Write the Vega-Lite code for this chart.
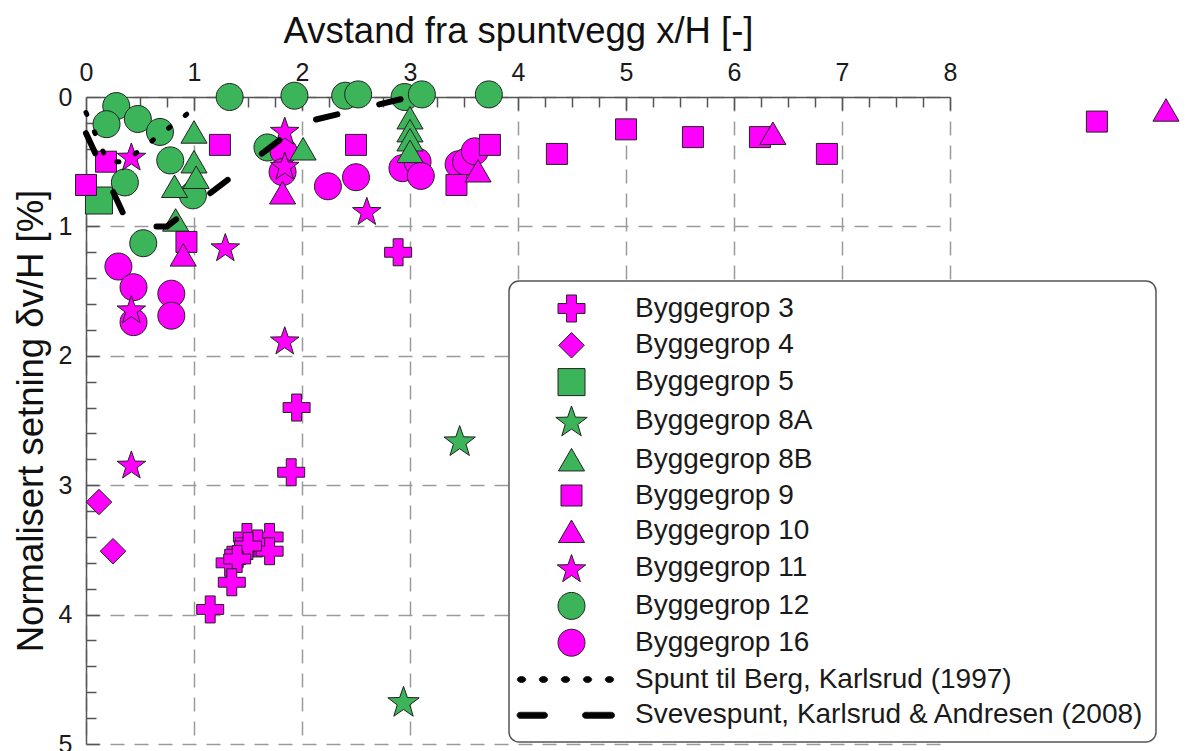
{
  "$schema": "https://vega.github.io/schema/vega-lite/v6.json",
  "width": 864,
  "height": 647,
  "autosize": "none",
  "padding": {"left": 86, "top": 97, "right": 238, "bottom": 7},
  "background": "white",
  "config": {
    "font": "Liberation Sans",
    "view": {"stroke": null},
    "legend": {
      "orient": "none",
      "legendX": 423,
      "legendY": 184,
      "fillColor": "white",
      "strokeColor": "#555555",
      "strokeWidth": 1.5,
      "cornerRadius": 10,
      "padding": 12,
      "labelFont": "Liberation Sans",
      "labelFontSize": 28,
      "labelColor": "#1a1a1a",
      "labelLimit": 800,
      "symbolSize": 900,
      "symbolStrokeColor": "#222222",
      "symbolStrokeWidth": 1,
      "symbolOffset": 35,
      "labelOffset": 48,
      "rowPadding": 5.8
    }
  },
  "datasets": {
    "points": [
      {"series": "Byggegrop 12", "x": 0.28, "y": 0.07},
      {"series": "Byggegrop 12", "x": 0.19, "y": 0.21},
      {"series": "Byggegrop 12", "x": 0.48, "y": 0.17},
      {"series": "Byggegrop 12", "x": 0.685, "y": 0.27},
      {"series": "Byggegrop 12", "x": 0.78, "y": 0.49},
      {"series": "Byggegrop 12", "x": 0.36, "y": 0.66},
      {"series": "Byggegrop 12", "x": 0.99, "y": 0.76},
      {"series": "Byggegrop 12", "x": 0.53, "y": 1.13},
      {"series": "Byggegrop 12", "x": 1.33, "y": 0.0},
      {"series": "Byggegrop 12", "x": 1.68, "y": 0.39},
      {"series": "Byggegrop 12", "x": 1.93, "y": -0.01},
      {"series": "Byggegrop 12", "x": 2.4, "y": -0.01},
      {"series": "Byggegrop 12", "x": 2.52, "y": -0.02},
      {"series": "Byggegrop 12", "x": 2.95, "y": 0.0},
      {"series": "Byggegrop 12", "x": 3.11, "y": -0.02},
      {"series": "Byggegrop 12", "x": 3.73, "y": -0.02},
      {"series": "Byggegrop 16", "x": 1.83, "y": 0.42},
      {"series": "Byggegrop 16", "x": 1.82, "y": 0.58},
      {"series": "Byggegrop 16", "x": 2.24, "y": 0.69},
      {"series": "Byggegrop 16", "x": 2.5, "y": 0.62},
      {"series": "Byggegrop 16", "x": 2.93, "y": 0.55},
      {"series": "Byggegrop 16", "x": 3.07, "y": 0.5},
      {"series": "Byggegrop 16", "x": 3.1, "y": 0.61},
      {"series": "Byggegrop 16", "x": 3.45, "y": 0.52},
      {"series": "Byggegrop 16", "x": 3.52, "y": 0.5},
      {"series": "Byggegrop 16", "x": 3.6, "y": 0.42},
      {"series": "Byggegrop 16", "x": 0.3, "y": 1.31},
      {"series": "Byggegrop 16", "x": 0.44, "y": 1.47},
      {"series": "Byggegrop 16", "x": 0.44, "y": 1.74},
      {"series": "Byggegrop 16", "x": 0.79, "y": 1.52},
      {"series": "Byggegrop 16", "x": 0.79, "y": 1.69},
      {"series": "Byggegrop 3", "x": 2.89, "y": 1.2},
      {"series": "Byggegrop 3", "x": 1.95, "y": 2.4},
      {"series": "Byggegrop 3", "x": 1.9, "y": 2.9},
      {"series": "Byggegrop 3", "x": 1.49, "y": 3.4},
      {"series": "Byggegrop 3", "x": 1.7, "y": 3.4},
      {"series": "Byggegrop 3", "x": 1.59, "y": 3.45},
      {"series": "Byggegrop 3", "x": 1.7, "y": 3.51},
      {"series": "Byggegrop 3", "x": 1.43, "y": 3.51},
      {"series": "Byggegrop 3", "x": 1.5, "y": 3.47},
      {"series": "Byggegrop 3", "x": 1.33, "y": 3.6},
      {"series": "Byggegrop 3", "x": 1.4, "y": 3.57},
      {"series": "Byggegrop 3", "x": 1.35, "y": 3.75},
      {"series": "Byggegrop 3", "x": 1.15, "y": 3.96},
      {"series": "Byggegrop 4", "x": 0.12, "y": 3.13},
      {"series": "Byggegrop 4", "x": 0.25, "y": 3.51},
      {"series": "Byggegrop 5", "x": 0.12, "y": 0.8},
      {"series": "Byggegrop 8A", "x": 3.46, "y": 2.655},
      {"series": "Byggegrop 8A", "x": 2.94, "y": 4.67},
      {"series": "Byggegrop 8B", "x": 1.0, "y": 0.27},
      {"series": "Byggegrop 8B", "x": 1.0, "y": 0.5},
      {"series": "Byggegrop 8B", "x": 1.02, "y": 0.62},
      {"series": "Byggegrop 8B", "x": 0.82, "y": 0.69},
      {"series": "Byggegrop 8B", "x": 0.83, "y": 0.95},
      {"series": "Byggegrop 8B", "x": 2.01, "y": 0.4},
      {"series": "Byggegrop 8B", "x": 3.0, "y": 0.16},
      {"series": "Byggegrop 8B", "x": 3.0, "y": 0.26},
      {"series": "Byggegrop 8B", "x": 3.0, "y": 0.33},
      {"series": "Byggegrop 8B", "x": 3.0, "y": 0.42},
      {"series": "Byggegrop 9", "x": 1.24, "y": 0.37},
      {"series": "Byggegrop 9", "x": 0.185, "y": 0.5},
      {"series": "Byggegrop 9", "x": 0.0, "y": 0.68},
      {"series": "Byggegrop 9", "x": 0.93, "y": 1.12},
      {"series": "Byggegrop 9", "x": 2.5, "y": 0.37},
      {"series": "Byggegrop 9", "x": 3.74, "y": 0.37},
      {"series": "Byggegrop 9", "x": 3.43, "y": 0.68},
      {"series": "Byggegrop 9", "x": 4.36, "y": 0.44},
      {"series": "Byggegrop 9", "x": 5.0, "y": 0.25},
      {"series": "Byggegrop 9", "x": 5.62, "y": 0.31},
      {"series": "Byggegrop 9", "x": 6.24, "y": 0.31},
      {"series": "Byggegrop 9", "x": 6.86, "y": 0.44},
      {"series": "Byggegrop 9", "x": 9.36, "y": 0.19},
      {"series": "Byggegrop 10", "x": 10.0, "y": 0.1},
      {"series": "Byggegrop 10", "x": 6.36, "y": 0.28},
      {"series": "Byggegrop 10", "x": 3.63, "y": 0.57},
      {"series": "Byggegrop 10", "x": 1.82, "y": 0.74},
      {"series": "Byggegrop 10", "x": 0.9, "y": 1.22},
      {"series": "Byggegrop 11", "x": 0.42, "y": 0.46},
      {"series": "Byggegrop 11", "x": 1.84, "y": 0.26},
      {"series": "Byggegrop 11", "x": 1.84, "y": 0.53},
      {"series": "Byggegrop 11", "x": 2.6, "y": 0.88},
      {"series": "Byggegrop 11", "x": 1.29, "y": 1.16},
      {"series": "Byggegrop 11", "x": 0.42, "y": 1.64},
      {"series": "Byggegrop 11", "x": 1.84, "y": 1.88},
      {"series": "Byggegrop 11", "x": 0.42, "y": 2.84}
    ],
    "spunt": [
      {"x": 0.0, "y": 0.12},
      {"x": 0.2, "y": 0.5},
      {"x": 0.36, "y": 0.5},
      {"x": 1.0, "y": 0.09}
    ],
    "sveve": [
      {"x": 0.0, "y": 0.28},
      {"x": 0.4, "y": 1.0},
      {"x": 0.75, "y": 1.0},
      {"x": 2.0, "y": 0.2},
      {"x": 3.0, "y": 0.0}
    ]
  },
  "resolve": {"axis": {"x": "independent", "y": "independent"}},
  "layer": [
    {
      "data": {"name": "points"},
      "mark": {"type": "point", "filled": true, "size": 900, "opacity": 1, "stroke": "#222222", "strokeWidth": 1},
      "encoding": {
        "x": {
          "field": "x",
          "type": "quantitative",
          "scale": {"domain": [0, 8], "nice": false, "zero": false},
          "axis": {
            "orient": "top",
            "title": "Avstand fra spuntvegg x/H [-]",
            "titleFont": "Liberation Sans",
            "titleFontSize": 36.5,
            "titleFontWeight": "normal",
            "titleColor": "#111111",
            "titleBaseline": "alphabetic",
            "titleY": -55,
            "values": [0, 1, 2, 3, 4, 5, 6, 7, 8],
            "format": "d",
            "labelFontSize": 25,
            "labelColor": "#1a1a1a",
            "labelPadding": 12,
            "labelOverlap": false,
            "labelFlush": false,
            "ticks": false,
            "domainColor": "#555555",
            "domainWidth": 1.5,
            "grid": true,
            "gridColor": "#9a9a9a",
            "gridWidth": 1.5,
            "gridDash": [14, 10]
          }
        },
        "y": {
          "field": "y",
          "type": "quantitative",
          "scale": {"domain": [0, 5], "reverse": true, "nice": false, "zero": false},
          "axis": {
            "orient": "left",
            "title": "Normalisert setning δv/H [%]",
            "titleFont": "Liberation Sans",
            "titleFontSize": 36.5,
            "titleFontWeight": "normal",
            "titleColor": "#111111",
            "titleBaseline": "alphabetic",
            "titleX": -44,
            "values": [0, 1, 2, 3, 4, 5],
            "format": "d",
            "labelFontSize": 25,
            "labelColor": "#1a1a1a",
            "labelPadding": 14,
            "labelOverlap": false,
            "labelFlush": false,
            "ticks": false,
            "domainColor": "#555555",
            "domainWidth": 1.5,
            "grid": true,
            "gridColor": "#9a9a9a",
            "gridWidth": 1.5,
            "gridDash": [14, 10]
          }
        },
        "color": {
          "field": "series",
          "type": "nominal",
          "title": null,
          "scale": {
            "domain": ["Byggegrop 3", "Byggegrop 4", "Byggegrop 5", "Byggegrop 8A", "Byggegrop 8B", "Byggegrop 9", "Byggegrop 10", "Byggegrop 11", "Byggegrop 12", "Byggegrop 16", "Spunt til Berg, Karlsrud (1997)", "Svevespunt, Karlsrud & Andresen (2008)"],
            "range": ["#ff00ff", "#ff00ff", "#3cb45a", "#3cb45a", "#3cb45a", "#ff00ff", "#ff00ff", "#ff00ff", "#3cb45a", "#ff00ff", "#000000", "#000000"]
          }
        },
        "shape": {
          "field": "series",
          "type": "nominal",
          "title": null,
          "scale": {
            "domain": ["Byggegrop 3", "Byggegrop 4", "Byggegrop 5", "Byggegrop 8A", "Byggegrop 8B", "Byggegrop 9", "Byggegrop 10", "Byggegrop 11", "Byggegrop 12", "Byggegrop 16", "Spunt til Berg, Karlsrud (1997)", "Svevespunt, Karlsrud & Andresen (2008)"],
            "range": [
              "M-0.33,-0.9H0.33V-0.33H0.9V0.33H0.33V0.9H-0.33V0.33H-0.9V-0.33H-0.33Z",
              "M0,-0.85L0.85,0L0,0.85L-0.85,0Z",
              "M-0.9,-0.9H0.9V0.9H-0.9Z",
              "M0,-0.996L0.259,-0.252L1.046,-0.235L0.418,0.241L0.647,0.994L0,0.545L-0.647,0.994L-0.418,0.241L-1.046,-0.235L-0.259,-0.252Z",
              "M0,-0.75L0.87,0.75H-0.87Z",
              "M-0.7,-0.7H0.7V0.7H-0.7Z",
              "M0,-0.75L0.87,0.75H-0.87Z",
              "M0,-0.905L0.235,-0.229L0.951,-0.214L0.38,0.219L0.588,0.904L0,0.495L-0.588,0.904L-0.38,0.219L-0.951,-0.214L-0.235,-0.229Z",
              "M-0.9,0A0.9,0.9 0 1,0 0.9,0A0.9,0.9 0 1,0 -0.9,0Z",
              "M-0.9,0A0.9,0.9 0 1,0 0.9,0A0.9,0.9 0 1,0 -0.9,0Z",
              "M-3.61,0A0.28,0.2 0 1,0 -3.05,0A0.28,0.2 0 1,0 -3.61,0ZM-2.15,0A0.28,0.2 0 1,0 -1.59,0A0.28,0.2 0 1,0 -2.15,0ZM-0.68,0A0.28,0.2 0 1,0 -0.12,0A0.28,0.2 0 1,0 -0.68,0ZM0.79,0A0.28,0.2 0 1,0 1.35,0A0.28,0.2 0 1,0 0.79,0ZM2.25,0A0.28,0.2 0 1,0 2.81,0A0.28,0.2 0 1,0 2.25,0Z",
              "M-3.43,-0.2H-1.8A0.2,0.2 0 0,1 -1.8,0.2H-3.43A0.2,0.2 0 0,1 -3.43,-0.2ZM0.93,-0.2H2.67A0.2,0.2 0 0,1 2.67,0.2H0.93A0.2,0.2 0 0,1 0.93,-0.2Z"
            ]
          }
        }
      }
    },
    {
      "data": {"name": "spunt"},
      "mark": {"type": "line", "color": "#000000", "strokeWidth": 5, "strokeCap": "round", "strokeDash": [2, 19]},
      "encoding": {
        "x": {
          "field": "x",
          "type": "quantitative",
          "scale": {"domain": [0, 8], "nice": false, "zero": false},
          "axis": {
            "orient": "bottom",
            "offset": -647,
            "title": null,
            "values": [0.25, 0.5, 0.75, 1.25, 1.5, 1.75, 2.25, 2.5, 2.75, 3.25, 3.5, 3.75, 4.25, 4.5, 4.75, 5.25, 5.5, 5.75, 6.25, 6.5, 6.75, 7.25, 7.5, 7.75],
            "labels": false,
            "domain": false,
            "grid": false,
            "ticks": true,
            "tickSize": 10,
            "tickColor": "#555555",
            "tickWidth": 1.5
          }
        },
        "y": {
          "field": "y",
          "type": "quantitative",
          "scale": {"domain": [0, 5], "reverse": true, "nice": false, "zero": false},
          "axis": {
            "orient": "right",
            "offset": -864,
            "title": null,
            "values": [0.2, 0.4, 0.6, 0.8, 1.2, 1.4, 1.6, 1.8, 2.2, 2.4, 2.6, 2.8, 3.2, 3.4, 3.6, 3.8, 4.2, 4.4, 4.6, 4.8],
            "labels": false,
            "domain": false,
            "grid": false,
            "ticks": true,
            "tickSize": 10,
            "tickColor": "#555555",
            "tickWidth": 1.5
          }
        }
      }
    },
    {
      "data": {"name": "sveve"},
      "mark": {"type": "line", "color": "#000000", "strokeWidth": 6, "strokeCap": "round", "strokeDash": [22, 43]},
      "encoding": {
        "x": {
          "field": "x",
          "type": "quantitative",
          "scale": {"domain": [0, 8], "nice": false, "zero": false},
          "axis": {
            "orient": "bottom",
            "offset": -647,
            "title": null,
            "values": [1, 2, 3, 4, 5, 6, 7, 8],
            "labels": false,
            "domain": false,
            "grid": false,
            "ticks": true,
            "tickSize": 13,
            "tickColor": "#555555",
            "tickWidth": 1.5
          }
        },
        "y": {
          "field": "y",
          "type": "quantitative",
          "scale": {"domain": [0, 5], "reverse": true, "nice": false, "zero": false},
          "axis": {
            "orient": "right",
            "offset": -864,
            "title": null,
            "values": [1, 2, 3, 4, 5],
            "labels": false,
            "domain": false,
            "grid": false,
            "ticks": true,
            "tickSize": 13,
            "tickColor": "#555555",
            "tickWidth": 1.5
          }
        }
      }
    }
  ]
}
